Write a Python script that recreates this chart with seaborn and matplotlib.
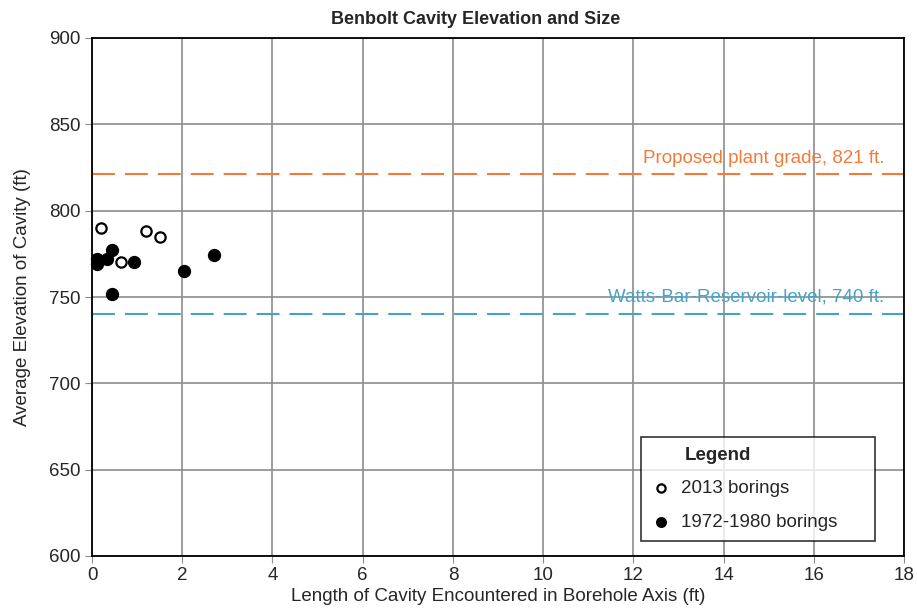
import matplotlib
matplotlib.use("Agg")
import matplotlib.pyplot as plt
import seaborn as sns
import pandas as pd

# Data
len_2013 = [0.21, 1.20, 1.50, 0.64]
elev_2013 = [790.2, 788.2, 785.0, 770.1]
len_old = [0.44, 0.12, 0.10, 0.34, 0.94, 2.04, 2.71, 0.44]
elev_old = [777.1, 772.0, 769.0, 771.9, 770.1, 764.9, 774.5, 751.8]
plant_grade = 821
reservoir = 740
x_ticks = list(range(0, 19, 2))
y_ticks = list(range(600, 901, 50))

df_new = pd.DataFrame({"x": len_2013, "y": elev_2013})
df_old = pd.DataFrame({"x": len_old, "y": elev_old})

sns.set_style("white")
plt.rcParams['font.family'] = ['Liberation Sans', 'DejaVu Sans']

FS = 13.5
fig = plt.figure(figsize=(9.17, 6.15), dpi=100)
ax = fig.add_axes([92/917, 1 - 556/615, (904-92)/917, (556-38)/615])

ax.set_xlim(0, 18)
ax.set_ylim(600, 900)
ax.set_xticks(x_ticks)
ax.set_yticks(y_ticks)
ax.grid(True, color="#8c8c8c", linewidth=1.2)
ax.set_axisbelow(True)

ax.axhline(plant_grade, color="#f47a3a", linestyle=(0, (11, 4.8)), linewidth=1.5)
ax.axhline(reservoir, color="#45a3c6", linestyle=(0, (11, 4.8)), linewidth=1.5)
ax.text(17.57, plant_grade + 4.5, "Proposed plant grade, 821 ft.", color="#f47a3a",
        ha="right", va="bottom", fontsize=FS)
ax.text(17.57, reservoir + 5, "Watts-Bar-Reservoir-level, 740 ft.", color="#45a3c6",
        ha="right", va="bottom", fontsize=FS)

sns.scatterplot(data=df_old, x="x", y="y", ax=ax, color="black", s=70,
                edgecolor="black", linewidth=1.2, label="1972-1980 borings", zorder=5, clip_on=False)
sns.scatterplot(data=df_new, x="x", y="y", ax=ax, color="white", s=55,
                edgecolor="black", linewidth=1.6, label="2013 borings", zorder=5, clip_on=False)

for sp in ax.spines.values():
    sp.set_color("black")
    sp.set_linewidth(1.3)

ax.tick_params(axis="both", labelsize=FS, length=5, color="#8c8c8c", direction="out",
               left=True, bottom=True, pad=3)
ax.set_xlabel("Length of Cavity Encountered in Borehole Axis (ft)", fontsize=FS, labelpad=3)
ax.set_ylabel("Average Elevation of Cavity (ft)", fontsize=FS, labelpad=13)
ax.set_title("Benbolt Cavity Elevation and Size", fontsize=13, fontweight="bold", pad=10,
             x=0.473)

handles, labels = ax.get_legend_handles_labels()
order = [labels.index("2013 borings"), labels.index("1972-1980 borings")]
leg = ax.legend([handles[i] for i in order], [labels[i] for i in order],
                title="Legend", loc="lower left",
                bbox_to_anchor=((641-92)/812, 15/518, 234/812, 0.2), mode="expand",
                borderaxespad=0,
                fontsize=FS, title_fontproperties={"weight": "bold", "size": FS},
                frameon=True, fancybox=False, edgecolor="black", borderpad=0.55,
                labelspacing=0.87, handletextpad=0.6, handlelength=1.0, markerscale=0.8)
leg.get_frame().set_linewidth(1.2)
leg._legend_box.align = "left"
leg.get_title().set_position((33, 0))

fig.savefig("out.png", dpi=100)
